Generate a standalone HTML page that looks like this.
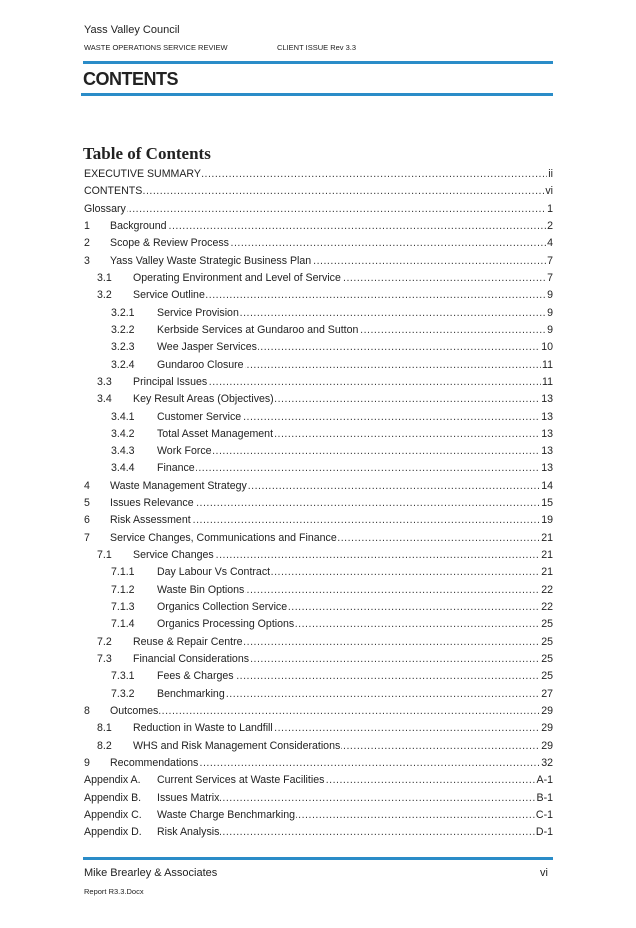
<!DOCTYPE html>
<html><head><meta charset="utf-8"><style>
body{margin:0;width:636px;height:928px;background:#fff;position:relative;font-family:"Liberation Sans",sans-serif;color:#222;overflow:hidden}
.a{position:absolute;white-space:nowrap}
.bar{position:absolute;left:83px;width:470px;height:3px;background:#2a8cc8}
.r{position:absolute;left:0;width:553px;height:17px;font-size:10.6px;line-height:17px}
.r span{position:absolute;top:0;background:#fff;padding-right:1px}
.r .d{position:absolute;top:0;right:0;overflow:hidden;height:17px;color:#333;letter-spacing:0.5px}
.r .p{right:0;padding-left:1px;padding-right:0}
</style></head><body>
<div class="a" style="left:84px;top:24px;font-size:11px">Yass Valley Council</div>
<div class="a" style="left:84px;top:43px;font-size:7.5px">WASTE OPERATIONS SERVICE REVIEW</div>
<div class="a" style="left:277px;top:43px;font-size:7.5px">CLIENT ISSUE Rev 3.3</div>
<div class="bar" style="top:61px"></div>
<div class="a" style="left:83px;top:69px;font-size:18px;font-weight:bold;letter-spacing:-0.5px">CONTENTS</div>
<div class="bar" style="top:93px;left:81px;width:472px"></div>
<div class="a" style="left:83px;top:144px;font-size:17px;font-weight:bold;font-family:'Liberation Serif',serif">Table of Contents</div>
<div id="t"></div>
<div class="bar" style="top:857px"></div>
<div class="a" style="left:84px;top:867px;font-size:11px">Mike Brearley &amp; Associates</div>
<div class="a" style="left:540px;top:867px;font-size:11px">vi</div>
<div class="a" style="left:84px;top:887px;font-size:7.5px">Report R3.3.Docx</div>
<script>
var rows=[
[0,"","EXECUTIVE SUMMARY","ii"],[0,"","CONTENTS","vi"],[0,"","Glossary","1"],
[1,"1","Background","2"],[1,"2","Scope & Review Process","4"],[1,"3","Yass Valley Waste Strategic Business Plan","7"],
[2,"3.1","Operating Environment and Level of Service","7"],[2,"3.2","Service Outline","9"],
[3,"3.2.1","Service Provision","9"],[3,"3.2.2","Kerbside Services at Gundaroo and Sutton","9"],[3,"3.2.3","Wee Jasper Services","10"],[3,"3.2.4","Gundaroo Closure","11"],
[2,"3.3","Principal Issues","11"],[2,"3.4","Key Result Areas (Objectives)","13"],
[3,"3.4.1","Customer Service","13"],[3,"3.4.2","Total Asset Management","13"],[3,"3.4.3","Work Force","13"],[3,"3.4.4","Finance","13"],
[1,"4","Waste Management Strategy","14"],[1,"5","Issues Relevance","15"],[1,"6","Risk Assessment","19"],[1,"7","Service Changes, Communications and Finance","21"],
[2,"7.1","Service Changes","21"],[3,"7.1.1","Day Labour Vs Contract","21"],[3,"7.1.2","Waste Bin Options","22"],[3,"7.1.3","Organics Collection Service","22"],[3,"7.1.4","Organics Processing Options","25"],
[2,"7.2","Reuse & Repair Centre","25"],[2,"7.3","Financial Considerations","25"],[3,"7.3.1","Fees & Charges","25"],[3,"7.3.2","Benchmarking","27"],
[1,"8","Outcomes","29"],[2,"8.1","Reduction in Waste to Landfill","29"],[2,"8.2","WHS and Risk Management Considerations","29"],[1,"9","Recommendations","32"],
[4,"Appendix A.","Current Services at Waste Facilities","A-1"],[4,"Appendix B.","Issues Matrix","B-1"],[4,"Appendix C.","Waste Charge Benchmarking","C-1"],[4,"Appendix D.","Risk Analysis","D-1"]];
var nx=[0,84,97,111,84],tx=[84,110,133,157,157];
var h="",dots=".".repeat(200);
function esc(s){return s.replace(/&/g,"&amp;")}
rows.forEach(function(r,i){
 var y=166+i*17.32;
 h+='<div class="r" style="top:'+y.toFixed(1)+'px"><div class="d" style="left:'+tx[r[0]]+'px">'+dots+'</div>';
 if(r[1])h+='<span style="left:'+nx[r[0]]+'px">'+r[1]+'</span>';
 h+='<span style="left:'+tx[r[0]]+'px">'+esc(r[2])+'</span><span class="p">'+r[3]+'</span></div>';
});
document.getElementById("t").innerHTML=h;
</script>
</body></html>
